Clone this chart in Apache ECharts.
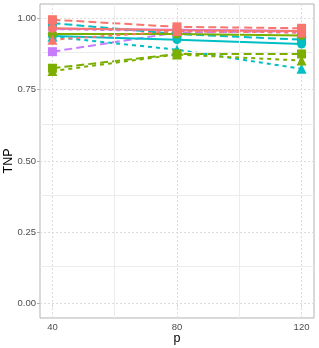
<!DOCTYPE html>
<html>
<head>
<meta charset="utf-8">
<script src="https://cdn.jsdelivr.net/npm/echarts@6/dist/echarts.min.js"></script>
<style>html,body{margin:0;padding:0;background:#fff}#c{width:319px;height:348px}</style>
</head>
<body>
<div id="c"></div>
<script>
const pValues = [40, 80, 120];
const yTicks = [0, 0.25, 0.5, 0.75, 1];
const xTicks = [40, 80, 120];
const yMinor = [0.125, 0.375, 0.625, 0.875];
const xMinor = [60, 100];

// values per method (colour) and setting (shape / linetype)
const purpleCircle   = [0.963, 0.960, 0.955];
const purpleTriangle = [0.962, 0.955, 0.950];
const purpleSquare   = [0.883, 0.950, 0.955];
const cyanCircle     = [0.938, 0.925, 0.910];
const cyanTriangle   = [0.935, 0.890, 0.823];
const cyanSquare     = [0.983, 0.945, 0.925];
const greenCircle    = [0.945, 0.945, 0.940];
const greenTriangle  = [0.815, 0.873, 0.852];
const greenSquare    = [0.825, 0.875, 0.875];
const redCircle      = [0.965, 0.958, 0.955];
const redTriangle    = [0.925, 0.955, 0.950];
const redSquare      = [0.995, 0.970, 0.965];

const colours = {purple:'#C77CFF', cyan:'#00BFC4', green:'#7CAE00', red:'#F8766D'};
const groups = [
  ['purple','circle',purpleCircle],['purple','triangle',purpleTriangle],['purple','square',purpleSquare],
  ['cyan','circle',cyanCircle],['cyan','triangle',cyanTriangle],['cyan','square',cyanSquare],
  ['green','circle',greenCircle],['green','triangle',greenTriangle],['green','square',greenSquare],
  ['red','circle',redCircle],['red','triangle',redTriangle],['red','square',redSquare]
];
const lineType = {circle:'solid', triangle:[4,4], square:[8,4]};
const symbolType = {circle:'circle', triangle:'triangle', square:'rect'};
const symbolSize = {circle:9, triangle:10, square:9};

const series = [];
// gridlines
const gridData = [];
xMinor.forEach(v => gridData.push({xAxis:v, lineStyle:{color:'#ececec', type:'solid', width:1}}));
yMinor.forEach(v => gridData.push({yAxis:v, lineStyle:{color:'#ececec', type:'solid', width:1}}));
xTicks.forEach(v => gridData.push({xAxis:v, lineStyle:{color:'#dcdcdc', type:[2,2], width:1}}));
yTicks.forEach(v => gridData.push({yAxis:v, lineStyle:{color:'#dcdcdc', type:[2,2], width:1}}));
series.push({type:'line', data:[], silent:true, z:1,
  markLine:{silent:true, symbol:['none','none'], label:{show:false}, animation:false, data:gridData}});

groups.forEach(([c,s,vals]) => {
  series.push({type:'line', z:2, data:pValues.map((p,i)=>[p,vals[i]]), showSymbol:false, symbol:'none',
    lineStyle:{color:colours[c], width:2, type:lineType[s]}, itemStyle:{color:colours[c]}, animation:false});
});
groups.forEach(([c,s,vals]) => {
  series.push({type:'scatter', z:5, data:pValues.map((p,i)=>[p,vals[i]]), symbol:symbolType[s],
    symbolSize:symbolSize[s], itemStyle:{color:colours[c], opacity:1, borderWidth:0}, animation:false});
});

const chart = echarts.init(document.getElementById('c'), null, {renderer:'canvas'});
chart.setOption({
  animation:false,
  grid:{left:40, right:5, top:4, bottom:30, show:true, borderColor:'#b3b3b3', borderWidth:1,
    backgroundColor:'transparent', containLabel:false, outerBoundsMode:'none'},
  xAxis:{type:'value', min:36, max:124, name:'p', nameLocation:'middle', nameGap:14, nameMoveOverlap:false,
    nameTextStyle:{fontSize:12.5, color:'#000', fontFamily:'Liberation Sans'},
    axisLine:{show:false}, splitLine:{show:false},
    axisTick:{show:true, customValues:xTicks, length:3, lineStyle:{color:'#b3b3b3'}},
    axisLabel:{customValues:xTicks, fontSize:9.5, color:'#4d4d4d', margin:4, fontFamily:'Liberation Sans'}},
  yAxis:{type:'value', min:-0.05, max:1.05, name:'TNP', nameLocation:'middle', nameGap:25, nameRotate:90, nameMoveOverlap:false,
    nameTextStyle:{fontSize:12.5, color:'#000', fontFamily:'Liberation Sans'},
    axisLine:{show:false}, splitLine:{show:false},
    axisTick:{show:true, customValues:yTicks, length:3, lineStyle:{color:'#b3b3b3'}},
    axisLabel:{customValues:yTicks, formatter:v=>v.toFixed(2), fontSize:9.5, color:'#4d4d4d', margin:4, fontFamily:'Liberation Sans'}},
  series:series
});
</script>
</body>
</html>
